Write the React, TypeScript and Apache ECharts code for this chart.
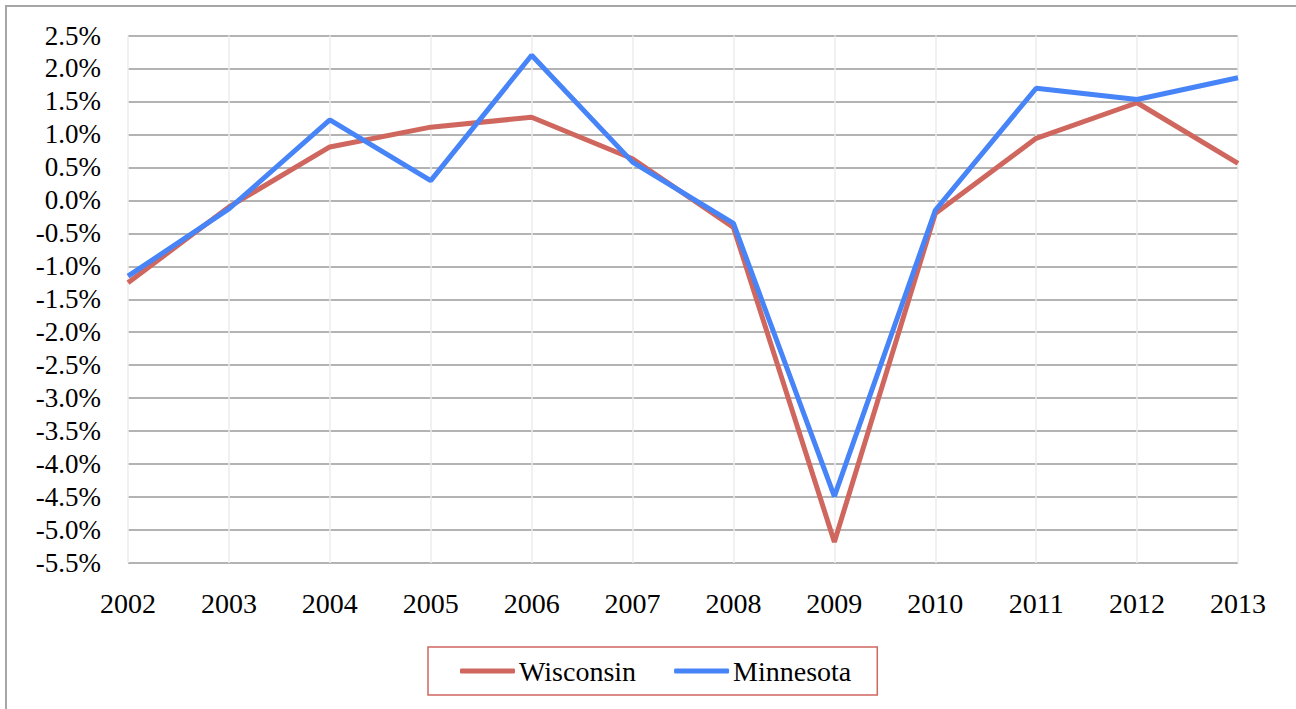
import React, { useEffect, useRef } from "react";
import * as echarts from "echarts";

const years = ["2002", "2003", "2004", "2005", "2006", "2007", "2008", "2009", "2010", "2011", "2012", "2013"];
const wisconsin = [-1.25, -0.1, 0.81, 1.11, 1.26, 0.63, -0.41, -5.18, -0.2, 0.94, 1.48, 0.56];
const minnesota = [-1.15, -0.13, 1.22, 0.3, 2.2, 0.58, -0.35, -4.49, -0.15, 1.7, 1.53, 1.86];
const yMin = -5.5;
const yMax = 2.5;
const yStep = 0.5;

const RED = "#cf675f";
const BLUE = "#4684f8";
const FONT = "'Liberation Serif', 'DejaVu Serif', serif";

export default function App() {
  const ref = useRef<HTMLDivElement>(null);
  useEffect(() => {
    document.body.style.margin = "0";
    const chart = echarts.init(ref.current!, undefined, { renderer: "svg" });
    chart.setOption({
      animation: false,
      backgroundColor: "#ffffff",
      textStyle: { fontFamily: FONT },
      graphic: [
        {
          type: "rect",
          shape: { x: 6, y: 6, width: 1400, height: 800 },
          style: { fill: "none", stroke: "#a6a6a6", lineWidth: 2 },
          silent: true,
          z: -10,
        },
      ],
      grid: { left: 128, right: 58, top: 35.5, bottom: 146, containLabel: false },
      xAxis: {
        type: "category",
        data: years,
        boundaryGap: false,
        axisLine: { show: false },
        axisTick: { show: false },
        axisLabel: { color: "#000", fontSize: 28, fontFamily: FONT, margin: 26 },
        splitLine: { show: true, lineStyle: { color: "#ececec", width: 1.5 } },
      },
      yAxis: {
        type: "value",
        min: yMin,
        max: yMax,
        interval: yStep,
        axisLine: { show: false },
        axisTick: { show: false },
        axisLabel: {
          color: "#000",
          fontSize: 27,
          fontFamily: FONT,
          margin: 27,
          formatter: (v: number) => v.toFixed(1) + "%",
        },
        splitLine: { show: true, lineStyle: { color: "#9a9a9a", width: 1.5 } },
      },
      legend: {
        top: 647,
        left: 428,
        orient: "horizontal",
        data: ["Wisconsin", "Minnesota"],
        icon: "roundRect",
        itemWidth: 55,
        itemHeight: 5,
        itemGap: 38,
        borderColor: RED,
        borderWidth: 1.5,
        borderRadius: 0,
        padding: [10, 26, 10, 32],
        textStyle: { color: "#000", fontSize: 28, fontFamily: FONT, padding: [0, 0, 0, -1] },
      },
      series: [
        {
          name: "Wisconsin",
          type: "line",
          data: wisconsin,
          showSymbol: false,
          symbol: "none",
          lineStyle: { color: RED, width: 5 },
          itemStyle: { color: RED },
        },
        {
          name: "Minnesota",
          type: "line",
          data: minnesota,
          showSymbol: false,
          symbol: "none",
          lineStyle: { color: BLUE, width: 5 },
          itemStyle: { color: BLUE },
        },
      ],
    });
    return () => chart.dispose();
  }, []);
  return <div ref={ref} style={{ width: 1296, height: 709 }} />;
}
